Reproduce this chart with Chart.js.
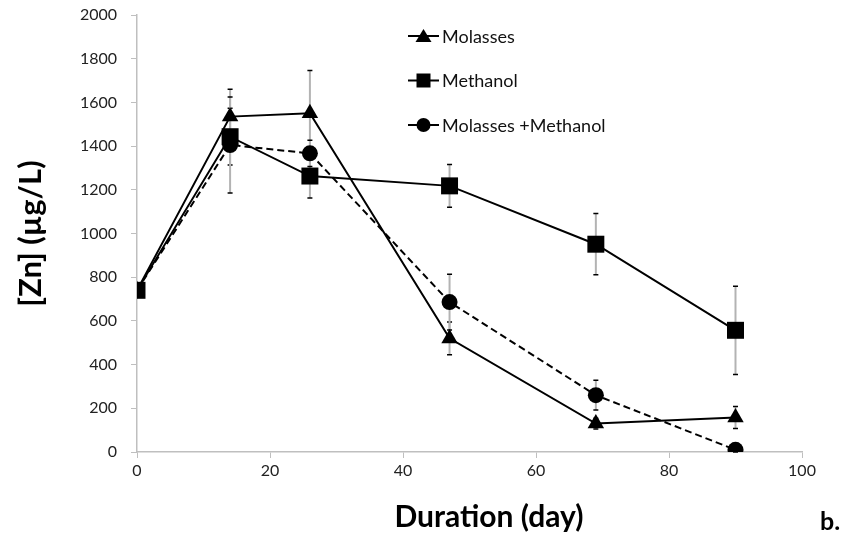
<!DOCTYPE html>
<html>
<head>
<meta charset="utf-8">
<script src="https://cdn.jsdelivr.net/npm/chart.js@4"></script>
<style>
  html, body { margin: 0; padding: 0; background: #fff; }
  #wrap { position: relative; width: 859px; height: 546px; }
</style>
</head>
<body>
<div id="wrap"><canvas id="zn" width="859" height="546"></canvas></div>
<script>
/* Zn concentration over time, three carbon sources */

const days = [0, 14, 26, 47, 69, 90];

const molasses    = [740, 1535, 1550, 520, 130, 158];
const methanol    = [740, 1443, 1263, 1218, 951, 557];
const mixed       = [740, 1405, 1367, 686, 260, 10];

// +/- error per point
const molassesErr = [0, 125, 196, 75, 25, 50];
const methanolErr = [0, 130, 100, 98, 140, 202];
const mixedErr    = [0, 220, 60, 128, 68, 10];

const xTicks = [0, 20, 40, 60, 80, 100];
const yTicks = [0, 200, 400, 600, 800, 1000, 1200, 1400, 1600, 1800, 2000];

const seriesNames = ['Molasses', 'Methanol', 'Molasses +Methanol'];

const FONT = 'Lato, "Open Sans", sans-serif';

function toPoints(ys) { return days.map((d, i) => ({ x: d, y: ys[i] })); }

const errorBars = {
  id: 'errorBars',
  beforeDatasetsDraw(chart) {
    const { ctx, scales: { x, y } } = chart;
    const errs = [molassesErr, methanolErr, mixedErr];
    ctx.save();
    chart.data.datasets.forEach((ds, k) => {
      ds.data.forEach((p, i) => {
        const e = errs[k][i];
        if (!e) return;
        const px = x.getPixelForValue(p.x);
        const top = y.getPixelForValue(p.y + e);
        const bot = y.getPixelForValue(p.y - e);
        ctx.strokeStyle = '#b3b3b3';
        ctx.lineWidth = 2;
        ctx.beginPath(); ctx.moveTo(px, top); ctx.lineTo(px, bot); ctx.stroke();
        ctx.strokeStyle = '#000';
        ctx.lineWidth = 1.5;
        ctx.beginPath();
        ctx.moveTo(px - 2.5, top); ctx.lineTo(px + 2.5, top);
        ctx.moveTo(px - 2.5, bot); ctx.lineTo(px + 2.5, bot);
        ctx.stroke();
      });
    });
    ctx.restore();
  }
};

// legend, x title and panel letter
const legendBox = {
  id: 'legendBox',
  afterDraw(chart) {
    const { ctx } = chart;
    ctx.save();
    chart.data.datasets.forEach((ds, i) => {
      const cy = 36 + i * 44.5;
      ctx.strokeStyle = '#000';
      ctx.lineWidth = 2;
      ctx.setLineDash([]);
      ctx.beginPath(); ctx.moveTo(408, cy); ctx.lineTo(439, cy); ctx.stroke();
      ctx.fillStyle = '#000';
      ctx.beginPath();
      if (ds.pointStyle === 'triangle') {
        ctx.moveTo(423.5, cy - 7); ctx.lineTo(431.5, cy + 6); ctx.lineTo(415.5, cy + 6);
      } else if (ds.pointStyle === 'rect') {
        ctx.rect(416.5, cy - 7, 14, 14);
      } else {
        ctx.arc(423.5, cy, 7, 0, Math.PI * 2);
      }
      ctx.fill();
      ctx.font = '18px ' + FONT;
      ctx.textBaseline = 'middle';
      ctx.fillStyle = '#111';
      ctx.fillText(seriesNames[i], 442, cy + 1);
    });
    ctx.fillStyle = '#000';
    ctx.textBaseline = 'middle';
    ctx.textAlign = 'center';
    ctx.font = 'bold 30px ' + FONT;
    ctx.fillText('Duration (day)', 489, 517);
    ctx.textAlign = 'left';
    ctx.font = 'bold 25px ' + FONT;
    ctx.fillText('b.', 820, 522);
    ctx.restore();
  }
};

new Chart(document.getElementById('zn'), {
  type: 'line',
  data: {
    datasets: [
      { label: seriesNames[0], data: toPoints(molasses), pointStyle: 'triangle', pointRadius: 9.5 },
      { label: seriesNames[1], data: toPoints(methanol), pointStyle: 'rect', pointRadius: 12 },
      { label: seriesNames[2], data: toPoints(mixed), pointStyle: 'circle', pointRadius: 8, borderDash: [7, 4] },
    ].map(ds => Object.assign({
      borderColor: '#000', backgroundColor: '#000', pointBackgroundColor: '#000',
      pointBorderWidth: 0, borderWidth: 2, tension: 0, pointHoverRadius: 9,
    }, ds)),
  },
  options: {
    responsive: false,
    animation: false,
    layout: { padding: { top: 15, right: 57, left: 0, bottom: 0 } },
    plugins: { legend: { display: false }, tooltip: { enabled: false } },
    scales: {
      x: {
        type: 'linear', min: 0, max: 100,
        afterBuildTicks: s => { s.ticks = xTicks.map(v => ({ value: v })); },
        afterFit: s => { s.height = 94; s.paddingLeft = 0; s.paddingRight = 0; },
        grid: { drawOnChartArea: false, color: '#bfbfbf', tickLength: 6, tickColor: '#bfbfbf' },
        border: { color: '#bfbfbf', width: 1.5 },
        ticks: { color: '#222', font: { family: FONT, size: 16 }, padding: 3, callback: v => String(v) },
      },
      y: {
        min: 0, max: 2000,
        afterBuildTicks: s => { s.ticks = yTicks.map(v => ({ value: v })); },
        afterFit: s => { s.width = 137; s.paddingTop = 0; s.paddingBottom = 0; },
        grid: { drawOnChartArea: false, color: '#bfbfbf', tickLength: 6, tickColor: '#bfbfbf' },
        border: { color: '#bfbfbf', width: 1.5 },
        ticks: { color: '#222', font: { family: FONT, size: 16 }, padding: 14, callback: v => String(v) },
        title: { display: true, text: '[Zn] (µg/L)', color: '#000',
                 font: { family: FONT, size: 31, weight: 'bold' }, padding: { top: 12, bottom: 0 } },
      },
    },
  },
  plugins: [errorBars, legendBox],
});
</script>
</body>
</html>
